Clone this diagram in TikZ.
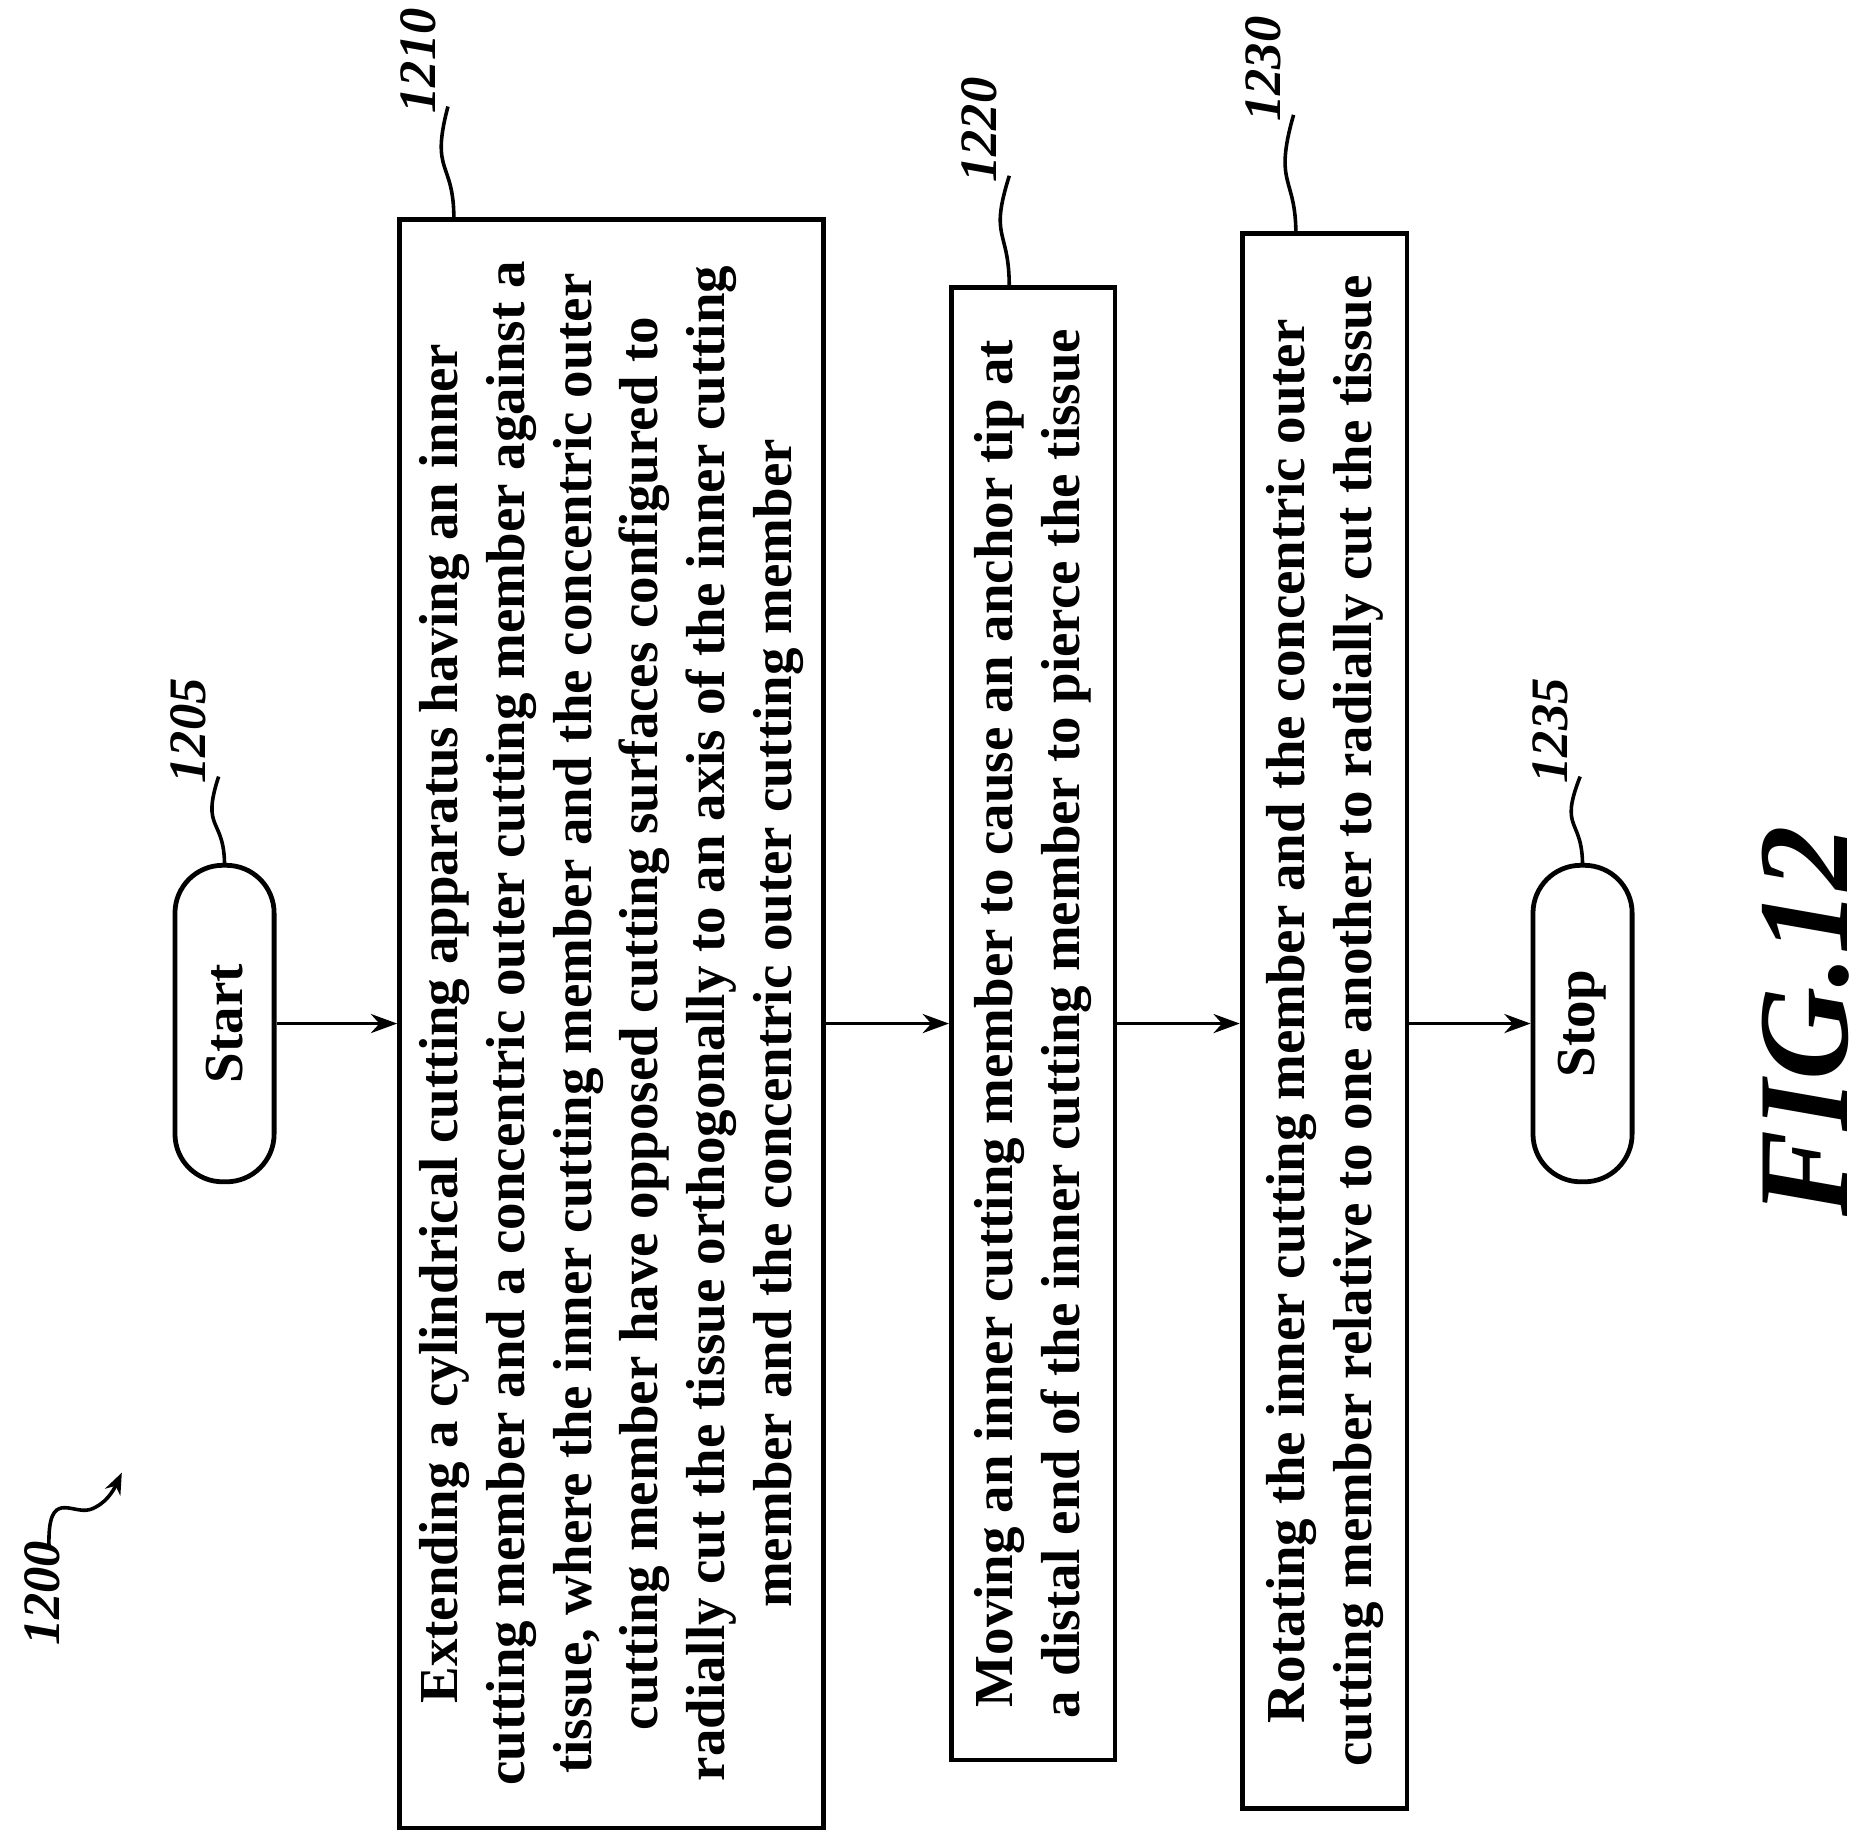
\documentclass[tikz,border=0pt]{standalone}
\usepackage{fontspec}
\setmainfont{Liberation Serif}
\usetikzlibrary{arrows.meta}
\begin{document}
\begin{tikzpicture}[x=1pt,y=1pt,
  box/.style={draw,line width=4pt,rotate=90,align=center,font=\bfseries\fontsize{46}{56}\selectfont,inner sep=0pt},
  term/.style={box,rounded corners=40pt,minimum width=265pt,minimum height=83pt},
  lbl/.style={rotate=90,font=\bfseries\itshape\fontsize{44}{44}\selectfont,inner sep=0pt},
  sq/.style={line width=3pt},
  arr/.style={line width=2.5pt,-{Stealth[length=22pt,width=16pt]}}]
\useasboundingbox (0,0) rectangle (1564,1546);
\node[term] (start) at (188,689) {Start};
\node[box,minimum width=1347pt,minimum height=355pt] (b1) at (512,689) {Extending a cylindrical cutting apparatus having an inner\\cutting member and a concentric outer cutting member against a\\tissue, where the inner cutting member and the concentric outer\\cutting member have opposed cutting surfaces configured to\\radially cut the tissue orthogonally to an axis of the inner cutting\\member and the concentric outer cutting member};
\node[box,minimum width=1233pt,minimum height=137pt] (b2) at (865,689) {Moving an inner cutting member to cause an anchor tip at\\a distal end of the inner cutting member to pierce the tissue};
\node[box,minimum width=1319pt,minimum height=138pt] (b3) at (1109,691) {Rotating the inner cutting member and the concentric outer\\cutting member relative to one another to radially cut the tissue};
\node[term] (stop) at (1325,689) {Stop};
\draw[arr] (start.south) -- (b1.north |- start.south);
\draw[arr] (b1.south |- start) -- (b2.north |- start);
\draw[arr] (b2.south |- start) -- (b3.north |- start);
\draw[arr] (b3.south |- start) -- (stop.north);
\node[lbl] (l1205) at (158,934) {1205};
\node[lbl] (l1210) at (350,1495) {1210};
\node[lbl] (l1220) at (820,1437) {1220};
\node[lbl] (l1230) at (1058,1488) {1230};
\node[lbl] (l1235) at (1298,934) {1235};
\node[lbl] (l1200) at (35,212) {1200};
\node[rotate=90,font=\bfseries\itshape\fontsize{108}{108}\selectfont,inner sep=0pt] (fig) at (1512,691) {FIG.12};
\draw[sq] (188,821) .. controls (188,862) and (168,850) .. ([xshift=10pt,yshift=6pt]l1205.south west);
\draw[sq] (380,1363) .. controls (380,1412) and (360,1400) .. ([xshift=10pt,yshift=6pt]l1210.south west);
\draw[sq] (845,1306) .. controls (845,1355) and (828,1345) .. ([xshift=10pt,yshift=6pt]l1220.south west);
\draw[sq] (1085,1350) .. controls (1085,1399) and (1066,1390) .. ([xshift=10pt,yshift=6pt]l1230.south west);
\draw[sq] (1325,821) .. controls (1325,862) and (1305,850) .. ([xshift=10pt,yshift=6pt]l1235.south west);
\coordinate (a1200) at (102,313);
\draw[sq,-{Stealth[length=18pt,width=14pt]}] ([xshift=6pt,yshift=-4pt]l1200.east) .. controls (40,300) and (60,278) .. (75,282) .. controls (88,286) and (95,298) .. (a1200);
\end{tikzpicture}
\end{document}
